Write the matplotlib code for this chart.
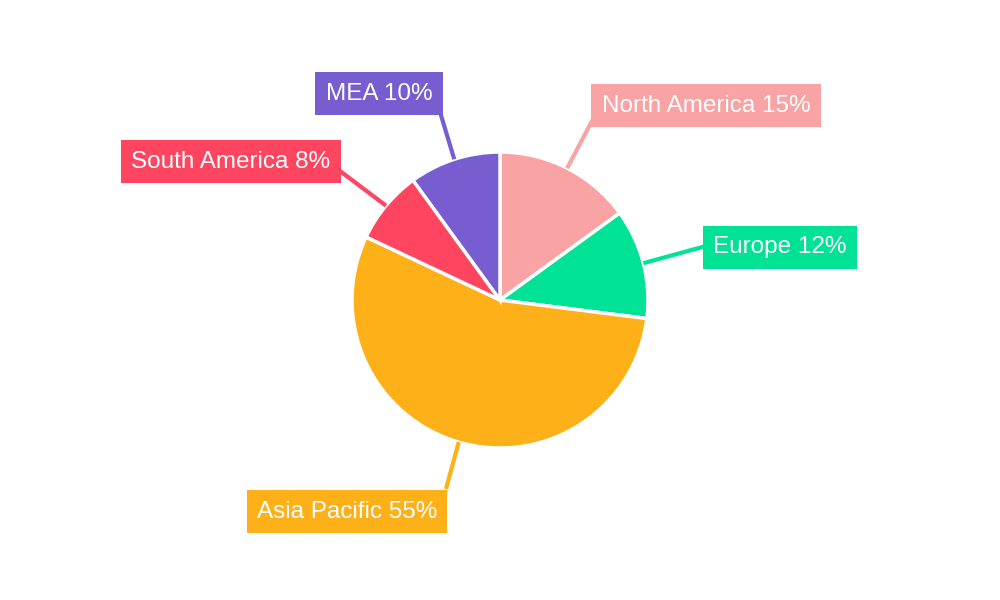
import matplotlib
matplotlib.use("Agg")
import matplotlib.pyplot as plt
import numpy as np

regions = ["North America", "Europe", "Asia Pacific", "South America", "MEA"]
shares = [15, 12, 55, 8, 10]
colors = ["#F9A3A4", "#00E396", "#FEB019", "#FF4560", "#775DD0"]

plt.rcParams['font.family'] = ['Liberation Sans', 'DejaVu Sans']

fig = plt.figure(figsize=(10, 6), dpi=100)
ax = fig.add_axes([0, 0, 1, 1])

cx, cy, r = 500, 300, 148
wedges, _ = ax.pie(shares, colors=colors, startangle=90, counterclock=False,
                   center=(cx, cy), radius=r, frame=True,
                   wedgeprops=dict(edgecolor='white', linewidth=2.5))
ax.set_xlim(0, 1000)
ax.set_ylim(0, 600)
ax.set_aspect('equal')
ax.axis('off')

# label box centers (pixel coords, y from top) and leader line end points
label_centers = [(706, 104), (780, 246), (347, 510), (231, 160), (379, 92)]
line_ends = [(593, 119), (706, 246), (446, 489), (340, 171), (440, 112)]

total = sum(shares)
cum = 0
for i, (name, val) in enumerate(zip(regions, shares)):
    mid = (cum + val / 2) / total * 2 * np.pi
    cum += val
    ex = cx + r * np.sin(mid)
    ey = cy + r * np.cos(mid)
    lx, ly = line_ends[i]
    ax.plot([ex, lx], [ey, 600 - ly], color=colors[i], linewidth=3,
            solid_capstyle='butt', zorder=3)
    tx, ty = label_centers[i]
    ax.text(tx, 600 - ty - 1.5, f"{name} {val}%", color='white', fontsize=17.5,
            ha='center', va='center', zorder=4,
            bbox=dict(boxstyle='square,pad=0.42', facecolor=colors[i],
                      edgecolor='none'))

fig.savefig("out.png", dpi=100, facecolor='white')
